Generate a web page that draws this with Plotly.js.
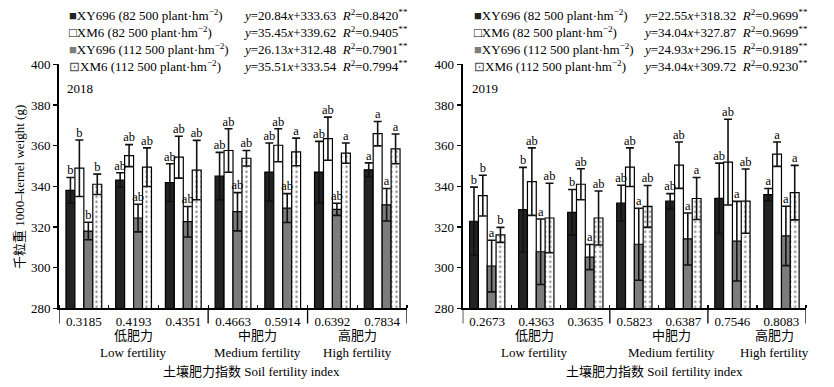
<!DOCTYPE html>
<html>
<head>
<meta charset="utf-8">
<script src="https://cdn.plot.ly/plotly-3.0.1.min.js"></script>
<style>html,body{margin:0;padding:0;background:#fff;}#chart{width:834px;height:387px;}</style>
</head>
<body>
<div id="chart"></div>
<script>
// ---------- DATA ----------
const fertility2018 = ['0.3185','0.4193','0.4351','0.4663','0.5914','0.6392','0.7834'];
const fertility2019 = ['0.2673','0.4363','0.3635','0.5823','0.6387','0.7546','0.8083'];

const seriesNames = ['XY696 (82 500 plant·hm<sup>−2</sup>)', 'XM6 (82 500 plant·hm<sup>−2</sup>)',
                     'XY696 (112 500 plant·hm<sup>−2</sup>)', 'XM6 (112 500 plant·hm<sup>−2</sup>)'];

// 2018
const xy696_82_2018  = [338.0, 343.1, 341.8, 345.0, 347.0, 347.0, 348.1];
const xy696_82_2018e = [6.3, 3.6, 9.3, 11.7, 14.3, 15.1, 3.4];
const xm6_82_2018    = [348.9, 355.1, 354.3, 357.6, 360.2, 363.4, 365.9];
const xm6_82_2018e   = [13.9, 5.4, 10.3, 10.7, 8.1, 10.6, 6.0];
const xy696_112_2018 = [318.0, 324.4, 322.6, 327.5, 329.3, 328.7, 330.9];
const xy696_112_2018e= [4.3, 6.8, 7.5, 9.4, 7.1, 3.0, 8.0];
const xm6_112_2018   = [341.0, 349.4, 348.0, 353.8, 356.9, 356.3, 358.4];
const xm6_112_2018e  = [5.0, 9.5, 14.6, 3.8, 6.8, 5.0, 7.3];
const sig2018 = [
  ['b','ab','ab','ab','ab','ab','a'],
  ['b','ab','ab','ab','ab','ab','a'],
  ['b','ab','ab','ab','ab','ab','a'],
  ['b','ab','ab','ab','a','a','a']
];
const eq2018 = ['20.84','333.63','0.8420', '35.45','339.62','0.9405', '26.13','312.48','0.7901', '35.51','333.54','0.7994'];

// 2019
const xy696_82_2019  = [322.8, 328.5, 327.2, 331.7, 332.7, 334.1, 335.9];
const xy696_82_2019e = [16.8, 20.8, 11.2, 8.8, 3.7, 17.3, 3.0];
const xm6_82_2019    = [335.4, 342.3, 341.0, 349.4, 350.4, 351.9, 355.8];
const xm6_82_2019e   = [10.0, 16.6, 7.6, 9.5, 11.4, 21.1, 6.0];
const xy696_112_2019 = [300.8, 307.8, 305.2, 311.5, 314.1, 313.0, 315.6];
const xy696_112_2019e= [12.7, 16.1, 6.2, 17.7, 12.8, 19.6, 14.6];
const xm6_112_2019   = [316.1, 324.4, 324.4, 330.1, 334.0, 332.7, 336.9];
const xm6_112_2019e  = [3.7, 17.1, 13.3, 10.3, 10.3, 15.8, 13.4];
const sig2019 = [
  ['b','b','b','ab','ab','ab','a'],
  ['b','ab','ab','ab','ab','ab','a'],
  ['a','a','a','a','a','a','a'],
  ['b','ab','ab','ab','a','ab','a']
];
const eq2019 = ['22.55','318.32','0.9699', '34.04','327.87','0.9699', '24.93','296.15','0.9189', '34.04','309.72','0.9230'];

// ---------- STYLE ----------
const W = 834, H = 387;
const px = p => p / W;
const py = p => 1 - p / H;
const FONT = '"Liberation Serif", "Times New Roman", "Noto Sans CJK SC", serif';
const FS = 13;
const barW = 0.18;
const offsets = [-0.36, -0.18, 0, 0.18];
const styles = [
  {color:'#232323', line:{color:'#000', width:1.2}},
  {color:'#ffffff', line:{color:'#000', width:1.2}},
  {color:'#7c7c7c', line:{color:'#000', width:1.2}},
  {color:'#ffffff', line:{color:'#000', width:1.2}, pattern:{shape:'.', fgcolor:'#8a8a8a', bgcolor:'#fff', size:5, solidity:0.18}}
];

const traces = [];
function addYear(vals, errs, sigs, xa, ya) {
  const idx = vals[0].map((_, i) => i);
  vals.forEach((v, s) => {
    traces.push({
      type:'bar', x: idx, y: v, xaxis: xa, yaxis: ya,
      width: barW, offset: offsets[s],
      marker: styles[s], showlegend:false, hoverinfo:'y',
      error_y: {type:'data', array: errs[s], color:'#111', thickness:1.6, width:4}
    });
    traces.push({
      type:'scatter', mode:'text', xaxis: xa, yaxis: ya, showlegend:false, hoverinfo:'skip',
      x: idx.map(i => i + offsets[s] + barW / 2),
      y: v.map((val, i) => val + errs[s][i]),
      text: sigs[s], textposition:'top center', cliponaxis:false,
      textfont:{family:FONT, size:12.5, color:'#000'}
    });
  });
}
addYear([xy696_82_2018, xm6_82_2018, xy696_112_2018, xm6_112_2018],
        [xy696_82_2018e, xm6_82_2018e, xy696_112_2018e, xm6_112_2018e], sig2018, 'x', 'y');
addYear([xy696_82_2019, xm6_82_2019, xy696_112_2019, xm6_112_2019],
        [xy696_82_2019e, xm6_82_2019e, xy696_112_2019e, xm6_112_2019e], sig2019, 'x2', 'y2');

const yDom = [py(308.3), py(64.3)];
function xAxis(dom, ticks, anchor) {
  return {
    domain: dom, anchor: anchor, range:[-0.5, 6.5],
    tickvals:[0,1,2,3,4,5,6], ticktext: ticks, ticks:'',
    minor:{ticks:'inside', tick0:0.5, dtick:1, ticklen:3, tickwidth:1.2, tickcolor:'#000', showgrid:false},
    showline:true, linecolor:'#000', linewidth:1.6, showgrid:false, zeroline:false,
    tickfont:{family:FONT, size:FS, color:'#000'}, fixedrange:true
  };
}
function yAxis(anchor) {
  return {
    domain: yDom, anchor: anchor, range:[280, 400], tickvals:[280,300,320,340,360,380,400],
    ticks:'outside', ticklen:4, tickwidth:1.4, tickcolor:'#000',
    showline:true, linecolor:'#000', linewidth:2, showgrid:false, zeroline:false,
    tickfont:{family:FONT, size:FS, color:'#000'}, fixedrange:true
  };
}

const symbols = ['<span style="color:#232323">■</span>', '<span style="color:#000">□</span>',
                 '<span style="color:#7c7c7c">■</span>', '<span style="color:#444">⊡</span>'];
const rowsY = [15, 32, 49, 66];
const annotations = [];
function legendBlock(x0, xEq, eq, year) {
  for (let s = 0; s < 4; s++) {
    annotations.push({xref:'paper', yref:'paper', x:px(x0), y:py(rowsY[s]), xanchor:'left', yanchor:'middle',
      showarrow:false, text: symbols[s] + seriesNames[s], font:{family:FONT, size:FS, color:'#000'}});
    annotations.push({xref:'paper', yref:'paper', x:px(xEq), y:py(rowsY[s]), xanchor:'left', yanchor:'middle',
      showarrow:false,
      text: '<i>y</i>=' + eq[s*3] + '<i>x</i>+' + eq[s*3+1] + '  <i>R</i><sup>2</sup>=' + eq[s*3+2] + '<sup>**</sup>',
      font:{family:FONT, size:FS, color:'#000'}});
  }
  annotations.push({xref:'paper', yref:'paper', x:px(x0 - 2), y:py(88), xanchor:'left', yanchor:'middle',
    showarrow:false, text: year, font:{family:FONT, size:FS, color:'#000'}});
}
legendBlock(67, 241, eq2018, '2018');
legendBlock(472, 641, eq2019, '2019');

function groupLabels(centers, titleX) {
  const zh = ['低肥力','中肥力','高肥力'];
  const en = ['Low fertility','Medium fertility','High fertility'];
  centers.forEach((c, i) => {
    annotations.push({xref:'paper', yref:'paper', x:px(c), y:py(335), xanchor:'center', yanchor:'middle',
      showarrow:false, text: zh[i], font:{family:FONT, size:FS, color:'#000'}});
    annotations.push({xref:'paper', yref:'paper', x:px(c), y:py(352), xanchor:'center', yanchor:'middle',
      showarrow:false, text: en[i], font:{family:FONT, size:FS, color:'#000'}});
  });
  annotations.push({xref:'paper', yref:'paper', x:px(titleX), y:py(371), xanchor:'center', yanchor:'middle',
    showarrow:false, text:'土壤肥力指数 Soil fertility index', font:{family:FONT, size:FS, color:'#000'}});
}
groupLabels([133, 257, 357], 251);
groupLabels([534, 671, 774], 654);

annotations.push({xref:'paper', yref:'paper', x:px(19), y:py(187), xanchor:'center', yanchor:'middle',
  textangle:-90, showarrow:false, text:'千粒重 1000–kernel weight (g)', font:{family:FONT, size:FS, color:'#000'}});

const shapes = [];
['x','x2'].forEach(xr => {
  [-0.5, 2.5, 4.5, 6.5].forEach(v => {
    shapes.push({type:'line', xref:xr, yref:'paper', x0:v, x1:v, y0:yDom[0], y1:py(323.5),
      line:{color:'#000', width:1.3}});
  });
});

const layout = {
  width: W, height: H, margin:{l:0, r:0, t:0, b:0},
  paper_bgcolor:'#fff', plot_bgcolor:'rgba(0,0,0,0)',
  barmode:'overlay', showlegend:false,
  xaxis: xAxis([px(59), px(407)], fertility2018, 'y'),
  yaxis: yAxis('x'),
  xaxis2: xAxis([px(462.7), px(806)], fertility2019, 'y2'),
  yaxis2: yAxis('x2'),
  annotations: annotations, shapes: shapes,
  font:{family:FONT, color:'#000'}
};
Plotly.newPlot('chart', traces, layout, {displayModeBar:false, staticPlot:true});
</script>
</body>
</html>
